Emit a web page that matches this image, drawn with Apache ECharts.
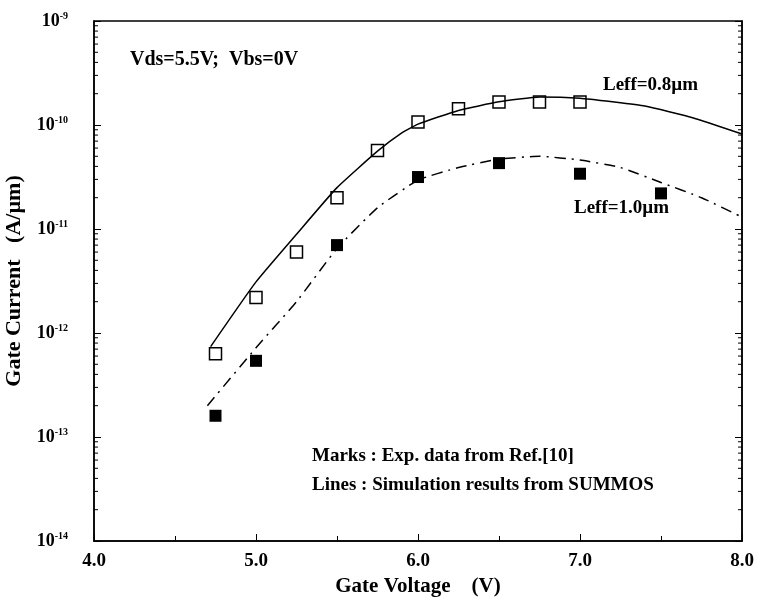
<!DOCTYPE html>
<html>
<head>
<meta charset="utf-8">
<script src="https://cdn.jsdelivr.net/npm/echarts@6/dist/echarts.min.js"></script>
<style>
    html, body {margin: 0; padding: 0; background: #fff;}
    #chart {width: 759px; height: 599px;}
</style>
</head>
<body>
<div id="chart"></div>
<script>
// 实验数据 (marks)
const expX08 = [4.75, 5.0, 5.25, 5.5, 5.75, 6.0, 6.25, 6.5, 6.75, 7.0];
const expY08 = [6.3e-13, 2.2e-12, 6.0e-12, 2.0e-11, 5.7e-11, 1.07e-10, 1.43e-10, 1.66e-10, 1.66e-10, 1.66e-10];
const expX10 = [4.75, 5.0, 5.5, 6.0, 6.5, 7.0, 7.5];
const expY10 = [1.6e-13, 5.4e-13, 7.0e-12, 3.16e-11, 4.3e-11, 3.4e-11, 2.2e-11];

// 模拟结果 (lines)
const simX08 = [4.72, 5.0, 5.25, 5.5, 5.75, 5.9, 6.0, 6.25, 6.5, 6.75, 7.0, 7.2, 7.4, 7.7, 8.0];
const simY08 = [7.4e-13, 3.1e-12, 8.9e-12, 2.5e-11, 5.6e-11, 8.4e-11, 1.02e-10, 1.38e-10, 1.67e-10, 1.86e-10, 1.81e-10, 1.67e-10, 1.52e-10, 1.17e-10, 8.2e-11];
const simX10 = [4.7, 5.0, 5.25, 5.5, 5.75, 6.0, 6.25, 6.5, 6.75, 7.0, 7.25, 7.5, 7.75, 8.0];
const simY10 = [2.0e-13, 7.2e-13, 2.0e-12, 6.5e-12, 1.6e-11, 2.95e-11, 3.9e-11, 4.7e-11, 5.0e-11, 4.6e-11, 3.9e-11, 2.8e-11, 2.0e-11, 1.3e-11];

// 坐标轴
const xMin = 4.0, xMax = 8.0;
const decades = [1e-14, 1e-13, 1e-12, 1e-11, 1e-10];
const minorFactors = [2, 3, 4, 5, 6, 7, 8, 9];

const pair = (xs, ys) => xs.map((x, i) => [x, ys[i]]);
const minorTicks = [];
decades.forEach(d => minorFactors.forEach(f => minorTicks.push([xMin, d * f])));

const serif = 'Liberation Serif';
const boldFont = size => 'bold ' + size + 'px "Liberation Serif"';
const chart = echarts.init(document.getElementById('chart'));

const option = {
    animation: false,
    backgroundColor: '#fff',
    grid: {
        left: 94, right: 17, top: 21, bottom: 58,
        containLabel: false, outerBoundsMode: 'none',
        show: true, borderColor: '#000', borderWidth: 1.5
    },
    xAxis: {
        type: 'value', min: xMin, max: xMax, interval: 1,
        name: 'Gate Voltage    (V)', nameLocation: 'middle', nameGap: 32,
        nameTextStyle: {fontFamily: serif, fontWeight: 'bold', fontSize: 21, color: '#000'},
        axisLine: {lineStyle: {color: '#000', width: 1.5}},
        axisTick: {inside: true, length: 7, lineStyle: {color: '#000'}},
        minorTick: {show: true, splitNumber: 2, length: 5, lineStyle: {color: '#000'}},
        splitLine: {show: false},
        axisLabel: {
            margin: 11, fontFamily: serif, fontWeight: 'bold', fontSize: 19, color: '#000',
            formatter: v => v.toFixed(1)
        }
    },
    yAxis: [{
        type: 'log', logBase: 10, min: 1e-14, max: 1e-9,
        name: 'Gate Current   (A/\u00b5m)', nameLocation: 'middle', nameGap: 58, nameRotate: 90,
        nameTextStyle: {fontFamily: serif, fontWeight: 'bold', fontSize: 22, color: '#000'},
        axisLine: {lineStyle: {color: '#000', width: 1.5}},
        axisTick: {inside: true, length: 7, lineStyle: {color: '#000'}},
        splitLine: {show: false},
        axisLabel: {
            margin: 26,
            formatter: v => '{b|10}{s|' + Math.round(Math.log10(v)) + '}',
            rich: {
                b: {fontFamily: serif, fontWeight: 'bold', fontSize: 18, color: '#000'},
                s: {fontFamily: serif, fontWeight: 'bold', fontSize: 10, color: '#000', verticalAlign: 'top', padding: [0, 0, 10, 0]}
            }
        }
    }, {
        type: 'log', logBase: 10, min: 1e-14, max: 1e-9, position: 'right',
        axisLine: {show: true, lineStyle: {color: '#000', width: 1.5}},
        axisTick: {inside: true, length: 7, lineStyle: {color: '#000'}},
        axisLabel: {show: false},
        splitLine: {show: false}
    }],
    graphic: [
        {type: 'text', left: 130, top: 50, style: {text: 'Vds=5.5V;  Vbs=0V', font: boldFont(20), fill: '#000'}},
        {type: 'text', left: 603, top: 76, style: {text: 'Leff=0.8\u00b5m', font: boldFont(19), fill: '#000'}},
        {type: 'text', left: 574, top: 199, style: {text: 'Leff=1.0\u00b5m', font: boldFont(19), fill: '#000'}},
        {type: 'text', left: 312, top: 447, style: {text: 'Marks : Exp. data from Ref.[10]', font: boldFont(19), fill: '#000'}},
        {type: 'text', left: 312, top: 476, style: {text: 'Lines : Simulation results from SUMMOS', font: boldFont(19), fill: '#000'}}
    ],
    series: [
        {
            // 对数轴次刻度 (左右两侧)
            type: 'custom',
            silent: true,
            data: minorTicks,
            renderItem: (params, api) => {
                const v = api.value(1);
                const l = api.coord([xMin, v]);
                const r = api.coord([xMax, v]);
                return {
                    type: 'group',
                    children: [
                        {type: 'line', shape: {x1: l[0], y1: l[1], x2: l[0] + 4, y2: l[1]}, style: {stroke: '#000', lineWidth: 1}},
                        {type: 'line', shape: {x1: r[0], y1: r[1], x2: r[0] - 4, y2: r[1]}, style: {stroke: '#000', lineWidth: 1}}
                    ]
                };
            }
        },
        {
            name: 'sim 0.8', type: 'line', data: pair(simX08, simY08),
            showSymbol: false, smooth: 0.15,
            lineStyle: {color: '#000', width: 1.5}
        },
        {
            name: 'sim 1.0', type: 'line', data: pair(simX10, simY10),
            showSymbol: false, smooth: 0.15,
            lineStyle: {color: '#000', width: 1.5, type: [11, 6, 2, 6]}
        },
        {
            name: 'exp 0.8', type: 'scatter', data: pair(expX08, expY08),
            symbol: 'rect', symbolSize: 12,
            itemStyle: {color: '#fff', borderColor: '#000', borderWidth: 1.5, opacity: 1}
        },
        {
            name: 'exp 1.0', type: 'scatter', data: pair(expX10, expY10),
            symbol: 'rect', symbolSize: 12,
            itemStyle: {color: '#000', opacity: 1}
        }
    ]
};
chart.setOption(option);
</script>
</body>
</html>
